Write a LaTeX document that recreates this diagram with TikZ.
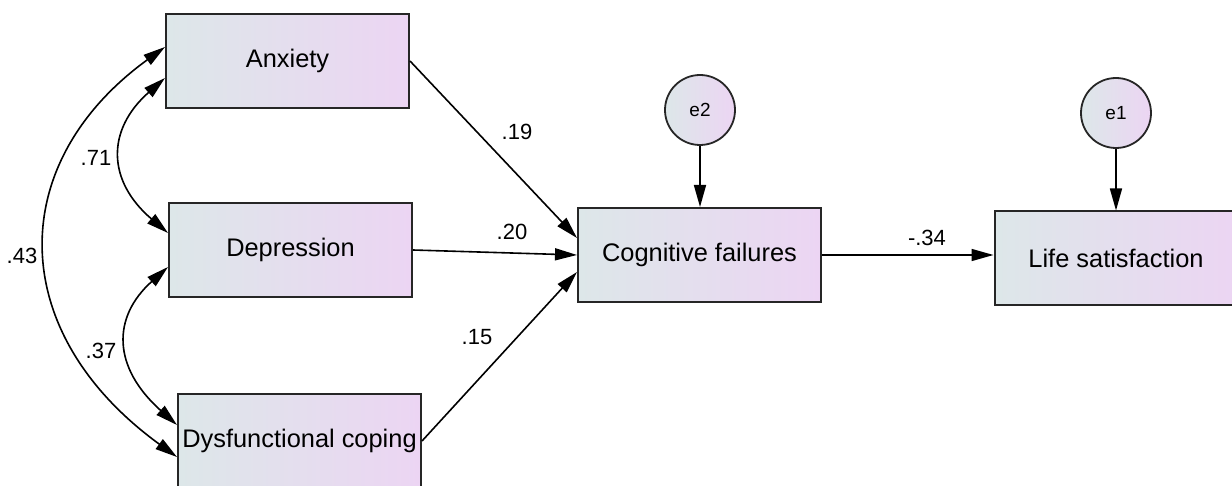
\documentclass[tikz,border=0pt]{standalone}
\usepackage{fontspec}
\setmainfont{Liberation Sans}
\usetikzlibrary{arrows.meta,calc}
\definecolor{lc}{RGB}{221,231,233}
\definecolor{rc}{RGB}{236,213,243}
\tikzset{
  var/.style={draw=black!85, line width=1pt, left color=lc, right color=rc, minimum width=121.5pt, minimum height=47pt, inner sep=0pt, font=\fontsize{12.7}{15}\selectfont},
  err/.style={circle, draw=black!85, line width=0.9pt, left color=lc, right color=rc, minimum size=35pt, inner sep=0pt, font=\fontsize{9.5}{11}\selectfont},
  path/.style={line width=0.8pt, -{Triangle[length=11pt,width=6pt]}},
  cov/.style={line width=0.8pt, {Triangle[length=11pt,width=6pt]}-{Triangle[length=11pt,width=6pt]}},
  lab/.style={font=\fontsize{11}{13}\selectfont, inner sep=0pt}
}
\begin{document}
\begin{tikzpicture}[x=0.5pt,y=-0.5pt]
\useasboundingbox (0,0) rectangle (1232,486);
\node[var] (anx) at (287.5,61) {Anxiety};
\node[var] (dep) at (290.5,250) {Depression};
\node[var] (dys) at (299.5,441) {Dysfunctional coping};
\node[var] (cog) at (699.5,255) {Cognitive failures};
\node[var] (life) at (1116,258.5) {Life satisfaction};
\node[err] (e2) at (700,110) {e2};
\node[err] (e1) at (1116,113) {e1};
% paths
\draw[path] (anx.east) -- ($(cog.west)+(0,-17)$);
\draw[path] (dep.east) -- (cog.west);
\draw[path] (dys.east) -- ($(cog.west)+(0,17)$);
\draw[path] (cog.east) -- (cog.east -| life.west);
\draw[path] (e2) -- (e2 |- cog.north);
\draw[path] (e1) -- (e1 |- life.north);
% covariances
\draw[cov] ($(anx.west)+(0,-14)$) .. controls +(-160,116) and +(-172,-125) .. ($(dys.west)+(0,16)$);
\draw[cov] ($(anx.west)+(0,17)$) .. controls +(-59,52) and +(-61,-52) .. ($(dep.west)+(0,-17)$);
\draw[cov] ($(dep.west)+(0,17)$) .. controls +(-56,50) and +(-65,-58) .. ($(dys.west)+(0,-16)$);
% labels
\node[lab] (l19) at (517,132) {.19};
\node[lab] (l20) at (512,232) {.20};
\node[lab] (l15) at (477,337) {.15};
\node[lab] (l34) at (927,238) {-.34};
\node[lab] (l71) at (96,158) {.71};
\node[lab] (l43) at (22,256) {.43};
\node[lab] (l37) at (101,351) {.37};
\end{tikzpicture}
\end{document}
